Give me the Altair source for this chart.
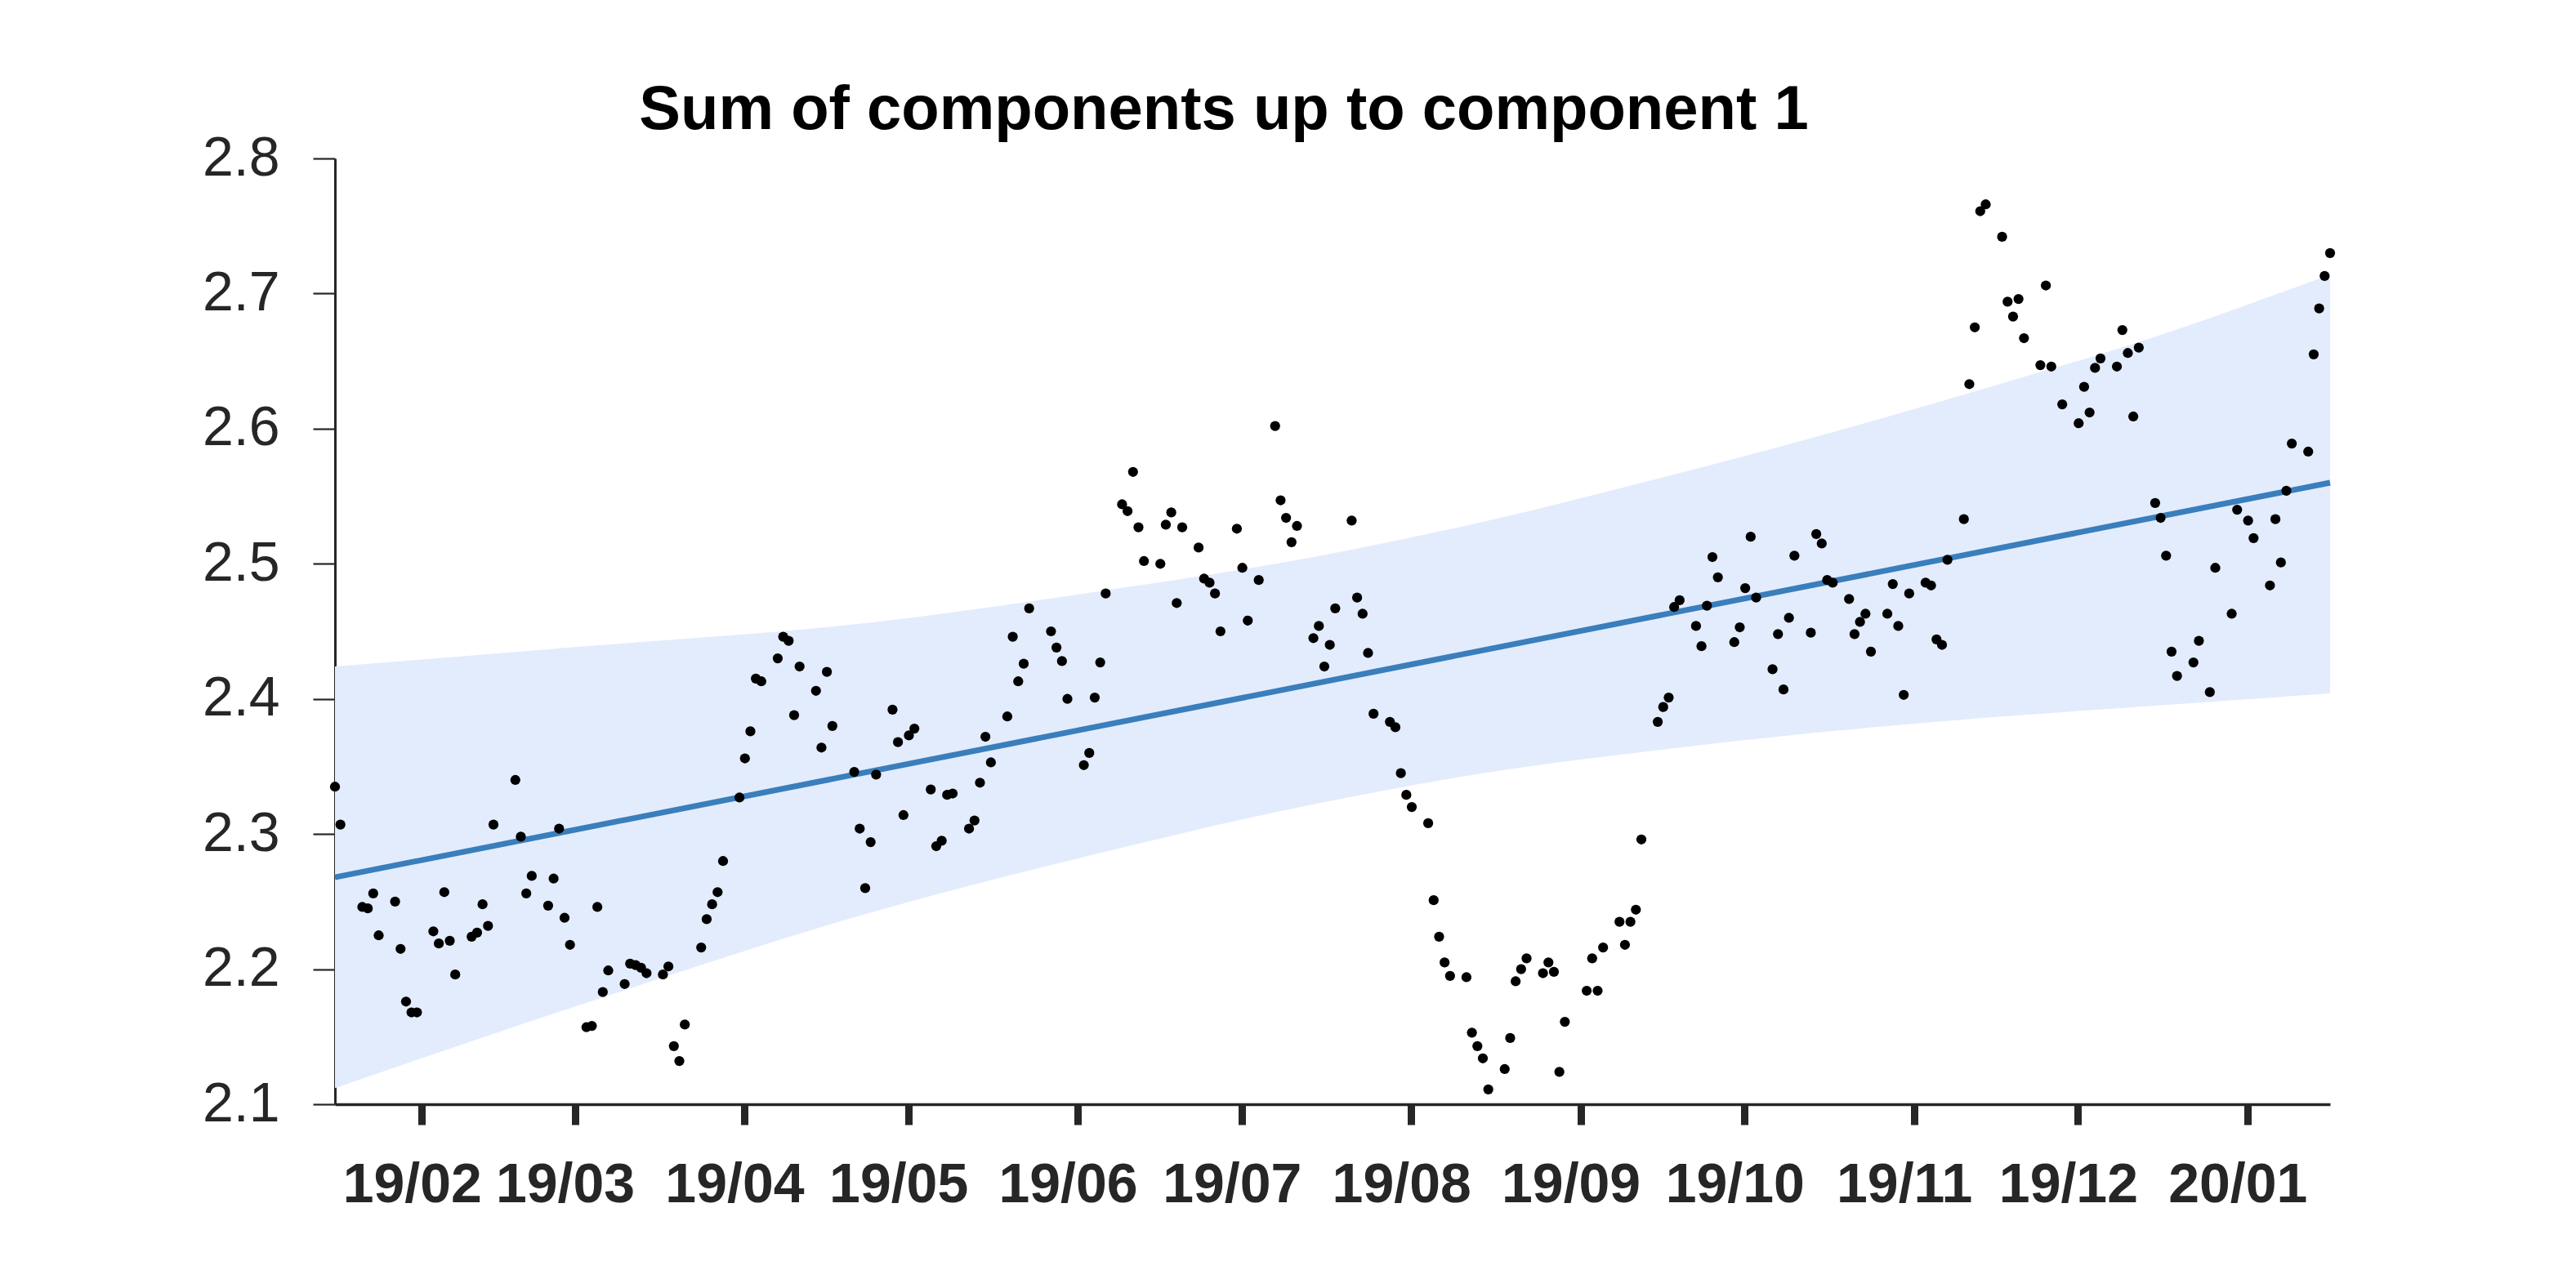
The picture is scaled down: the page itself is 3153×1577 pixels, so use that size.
import altair as alt
import pandas as pd

# ---------------- data ----------------
START = "2019-01-17"
END = "2020-01-17"
HOLIDAYS = ["2019-01-21", "2019-02-18", "2019-04-19", "2019-05-27", "2019-07-04",
            "2019-09-02", "2019-11-28", "2019-12-25", "2020-01-01"]

VALUES = [
    # Jan 17 - Apr 26, 2019
    2.335, 2.307,
    2.246, 2.245, 2.256, 2.225,
    2.250, 2.215, 2.176, 2.168, 2.168,
    2.228, 2.219, 2.257, 2.221, 2.196,
    2.224, 2.227, 2.248, 2.232, 2.307,
    2.340, 2.298, 2.256, 2.269,
    2.247, 2.267, 2.304, 2.238, 2.218,
    2.157, 2.158, 2.246, 2.183, 2.199,
    2.189, 2.204, 2.203, 2.201, 2.197,
    2.196, 2.202, 2.143, 2.132, 2.159,
    2.216, 2.237, 2.248, 2.257, 2.280,
    2.327, 2.356, 2.376, 2.415, 2.413,
    2.430, 2.446, 2.443, 2.388, 2.424,
    2.406, 2.364, 2.420, 2.380,
    2.346, 2.304, 2.260, 2.294, 2.344,
    # Apr 29 - Aug 2
    2.392, 2.368, 2.314, 2.373, 2.378,
    2.333, 2.291, 2.295, 2.329, 2.330,
    2.304, 2.310, 2.338, 2.372, 2.353,
    2.387, 2.446, 2.413, 2.426, 2.467,
    2.450, 2.438, 2.428, 2.400,
    2.351, 2.360, 2.401, 2.427, 2.478,
    2.544, 2.539, 2.568, 2.527, 2.502,
    2.500, 2.529, 2.538, 2.471, 2.527,
    2.512, 2.489, 2.486, 2.478, 2.450,
    2.526, 2.497, 2.458, 2.488,
    2.602, 2.547, 2.534, 2.516, 2.528,
    2.445, 2.454, 2.424, 2.440, 2.467,
    2.532, 2.475, 2.463, 2.434, 2.389,
    2.383, 2.379, 2.345, 2.329, 2.320,
    # Aug 5 - Nov 8
    2.308, 2.251, 2.224, 2.205, 2.195,
    2.194, 2.153, 2.143, 2.134, 2.111,
    2.126, 2.149, 2.191, 2.200, 2.208,
    2.197, 2.205, 2.198, 2.124, 2.161,
    2.184, 2.208, 2.184, 2.216,
    2.235, 2.218, 2.235, 2.244, 2.296,
    2.383, 2.394, 2.401, 2.468, 2.473,
    2.454, 2.439, 2.469, 2.505, 2.490,
    2.442, 2.453, 2.482, 2.520, 2.475,
    2.422, 2.448, 2.407, 2.460, 2.506,
    2.449, 2.522, 2.515, 2.488, 2.486,
    2.474, 2.448, 2.457, 2.463, 2.435,
    2.463, 2.485, 2.454, 2.403, 2.478,
    2.486, 2.484, 2.444, 2.440, 2.503,
    # Nov 11 - Jan 17, 2020
    2.533, 2.633, 2.675, 2.761, 2.766,
    2.742, 2.694, 2.683, 2.696, 2.667,
    2.647, 2.706, 2.646, 2.618,
    2.604, 2.631, 2.612, 2.645, 2.652,
    2.646, 2.673, 2.656, 2.609, 2.660,
    2.545, 2.534, 2.506, 2.435, 2.417,
    2.427, 2.443, 2.405, 2.497,
    2.463, 2.540, 2.532, 2.519,
    2.484, 2.533, 2.501, 2.554, 2.589,
    2.583, 2.655, 2.689, 2.713, 2.730,
]

TREND_DATES = ["2019-01-17", "2020-01-17"]
TREND_VALUES = [2.268, 2.560]

BAND_DATES = ["2019-01-17", "2019-03-01", "2019-04-26", "2019-06-03", "2019-07-15",
              "2019-08-15", "2019-09-16", "2019-10-15", "2019-11-15", "2019-12-16",
              "2020-01-17"]
BAND_UPPER = [2.424, 2.438, 2.457, 2.478, 2.505, 2.531, 2.563, 2.594, 2.630, 2.668, 2.714]
BAND_LOWER = [2.112, 2.171, 2.243, 2.283, 2.322, 2.345, 2.362, 2.375, 2.386, 2.395, 2.404]

MONTH_TICKS = [(2019, m) for m in range(2, 13)] + [(2020, 1)]
Y_TICKS = [2.1, 2.2, 2.3, 2.4, 2.5, 2.6, 2.7, 2.8]

TITLE = "Sum of components up to component 1"

# ---------------- tables ----------------
days = pd.bdate_range(START, END)
days = days[~days.isin(pd.to_datetime(HOLIDAYS))]
n = min(len(days), len(VALUES))
points = pd.DataFrame({"date": days[:n].strftime("%Y-%m-%d"), "value": VALUES[:n]})
trend = pd.DataFrame({"date": TREND_DATES, "value": TREND_VALUES})
band = pd.DataFrame({"date": BAND_DATES, "upper": BAND_UPPER, "lower": BAND_LOWER})

AX = "#262626"
FONT = "Liberation Sans"

x_scale = alt.Scale(type="utc",
                    domain=[alt.DateTime(year=2019, month=1, date=17, utc=True),
                            alt.DateTime(year=2020, month=1, date=17, utc=True)])
y_scale = alt.Scale(domain=[2.1, 2.8], zero=False, nice=False)

x_axis = alt.Axis(
    values=[alt.DateTime(year=y, month=m, date=1, hours=21, utc=True) for y, m in MONTH_TICKS],
    format="%y/%m", title=None, grid=False,
    domainColor=AX, domainWidth=3.3, tickColor=AX, tickWidth=9, tickSize=25,
    labelFont=FONT, labelFontSize=68, labelFontWeight="bold", labelColor=AX,
    labelPadding=40, labelOffset=-12, labelOverlap=False, labelFlush=False,
)
y_axis = alt.Axis(
    values=Y_TICKS, format=".1f", title=None, grid=False,
    domainColor=AX, domainWidth=3, tickColor=AX, tickWidth=2.2, tickSize=27,
    labelFont=FONT, labelFontSize=68, labelColor=AX, labelPadding=41,
    labelOverlap=False, labelFlush=False,
)

def X():
    return alt.X("date:T", scale=x_scale, axis=x_axis)

band_layer = alt.Chart(band).mark_area(color="#e3ecfd", opacity=1, interpolate="monotone").encode(
    x=X(),
    y=alt.Y("lower:Q", scale=y_scale, axis=y_axis),
    y2="upper:Q",
)
trend_layer = alt.Chart(trend).mark_line(color="#3a7ebc", strokeWidth=7).encode(
    x=X(),
    y=alt.Y("value:Q", scale=y_scale, axis=y_axis),
)
point_layer = alt.Chart(points).mark_circle(color="black", size=150, opacity=1).encode(
    x=X(),
    y=alt.Y("value:Q", scale=y_scale, axis=y_axis),
)

chart = alt.layer(band_layer, trend_layer, point_layer).properties(
    width=2442,
    height=1158,
    background="white",
    autosize=alt.AutoSizeParams(type="none"),
    padding={"left": 410, "top": 194, "right": 301, "bottom": 225},
    title=alt.TitleParams(
        text=TITLE, font=FONT, fontSize=76, fontWeight="bold", color="black",
        anchor="middle", frame="group", dx=-133, offset=-74, baseline="alphabetic",
    ),
).configure_view(stroke="transparent", strokeWidth=0)

chart.save("out.html", embed_options={"renderer": "svg", "actions": False})
